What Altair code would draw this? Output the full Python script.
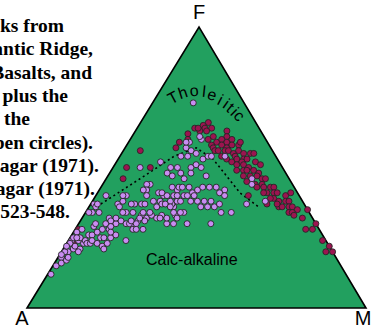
import altair as alt
import pandas as pd

# AFM compositions as (F, M) in percent of A+F+M; A = 100 - F - M.
# Calc-alkaline suite (Cascades), drawn as light violet circles
calc_alkaline = [
    (12, 1), (15, 1), (18, 1), (16, 2), (17, 3), (20, 2), (20, 1), (21, 3), (22, 3), (24, 1),
    (23, 1), (24, 3), (23, 5), (21, 5), (24, 5), (26, 5), (26, 6), (23, 9), (25, 9), (29, 5),
    (30, 5), (34, 2), (34, 4), (37, 1), (27, 1), (28, 2), (25, 1), (22, 0.5), (19, 0.5), (18, 3),
    (20, 5), (23, 6), (23, 7), (22, 11), (25, 12), (30, 11), (30, 8), (28, 10), (28, 8), (32, 8),
    (26, 13), (23, 12), (24, 17), (30, 14), (30, 16), (28, 17), (28, 20), (31, 17), (32, 19), (33, 20),
    (32, 22), (30, 26), (30, 28), (33, 23), (32, 25), (33, 27), (34, 29), (36, 25), (37, 24), (38, 20),
    (37, 13), (37, 15), (37, 16), (37, 8), (36, 2),
    (50, 8), (52, 13), (50, 17), (48, 17), (47, 19), (44, 14), (44, 13), (42, 14), (40, 15), (41, 18),
    (40, 20), (40, 21), (40, 23), (42, 23), (38, 25), (38, 23), (38, 18), (36, 20), (37, 21), (37, 22),
    (34, 19), (33, 17), (31, 19), (32, 17), (30, 17), (28, 18), (30, 15), (31, 15), (31, 12), (34, 12),
    (37, 12), (38, 9), (36, 9), (40, 9), (40, 8), (40, 3), (37, 2), (31, 9), (32, 10), (29, 10),
    (27, 11), (25, 10), (27, 7), (24, 7), (25, 3), (25, 2), (21, 12),
    (73, 12), (60, 21), (59, 18), (57, 18), (56, 20), (54, 18), (55, 22), (53, 25), (54, 26), (54, 27),
    (54, 31), (59, 17), (61, 20), (54, 20), (50, 19), (48, 21), (50, 23), (51, 24), (50, 26), (46, 23),
    (48, 24), (47, 29), (43, 21), (43, 23), (43, 24), (43, 26), (41, 28), (42, 29), (43, 30), (43, 32),
    (43, 34), (42, 37), (41, 36), (40, 24), (40, 26), (40, 27), (40, 29), (41, 19), (38, 26), (38, 29),
    (38, 31), (38, 33), (38, 35), (40, 38), (36, 33), (36, 35), (36, 37), (37, 38), (36, 24), (34, 26),
    (34, 28), (32, 28), (34, 43), (37, 46), (38, 51), (46, 43), (44, 44), (30, 32), (30, 39), (34, 40),
    (42, 13), (34, 11), (34, 14), (34, 17), (32, 23), (34, 1),
]

# Tholeiitic suites (Mid-Atlantic Ridge, Hawaii, ...), drawn as maroon circles
tholeiitic = [
    (66, 20), (64, 17), (65, 19), (64, 20), (64, 22), (63, 19), (63, 21), (64, 18), (62, 16), (63, 27),
    (60, 17), (61, 28), (59, 15), (57, 15), (56, 5), (50, 11), (50, 4), (46, 5), (18, 1), (28, 1),
    (23, 2),
    (60, 23), (61, 24), (59, 26), (60, 27), (59, 29), (60, 30), (58, 25), (57, 26), (58, 28), (57, 30),
    (58, 31), (58, 33), (59, 33), (56, 27), (56, 28), (56, 30), (56, 31), (55, 33), (56, 34), (55, 36),
    (55, 38), (54, 30), (53, 32), (54, 34), (53, 35), (53, 37), (53, 38), (55, 39), (52, 34), (51, 36),
    (52, 37), (51, 38), (50, 40), (52, 41), (49, 37), (49, 39), (49, 40), (49, 42), (48, 44), (51, 43),
    (47, 40), (47, 42), (47, 44), (46, 46), (46, 47), (45, 42), (44, 45), (44, 47), (43, 46), (43, 48),
    (43, 50), (43, 51), (41, 50), (41, 52), (41, 53), (40, 56), (41, 57), (41, 49), (39, 53), (38, 55),
    (38, 57), (38, 58), (39, 52), (36, 56), (36, 57), (36, 59), (36, 60), (35, 62), (34, 60), (34, 61),
    (33, 62), (35, 65), (32, 65), (37, 55), (30, 70), (28, 68), (28, 70), (24, 75), (22, 78), (20, 78),
    (20, 80), (40, 45), (37, 52),
]

# Irvine & Baragar (1971) tholeiitic / calc-alkaline divide
boundary = [(37, 3), (46, 10), (54, 16), (57, 21), (53, 28), (47, 35), (41, 42), (36, 50)]

# Corners of the diagram: A, F, M
corners = [(0, 0), (100, 0), (0, 100)]

# "Tholeiitic" set letter by letter along the arc above the trend
thol_letters = list("Tholeiitic")
thol_pos = [(74.7, 5.2), (76.5, 7.2), (77.2, 10.1), (76.9, 13.2), (75.8, 16.1),
            (74.0, 19.4), (72.6, 21.9), (71.2, 23.8), (69.8, 25.7), (68.3, 27.9)]
thol_angle = [332, 342, 354, 6, 18, 28, 35, 40, 45, 50]

calc_label_pos = (17, 40)

caption_lines = ["ks from", "antic Ridge,", "Basalts, and", "plus the", "f the",
                 "pen circles).", "agar (1971).", "agar (1971).", "523-548."]
caption_right = [64, 93, 92, 68, 30, 93, 99, 95, 70]

APEX = 0.5074  # horizontal position of the F apex along the base


def to_frame(pairs):
    return pd.DataFrame({
        "i": range(len(pairs)),
        "x": [(m + APEX * f) / 100 for f, m in pairs],
        "y": [f / 100 for f, m in pairs],
    })


xs = alt.Scale(domain=[-0.0797, 1.0177], nice=False, zero=False)
ys = alt.Scale(domain=[-0.0783, 1.0961], nice=False, zero=False)
X = alt.X("x:Q", scale=xs, axis=None)
Y = alt.Y("y:Q", scale=ys, axis=None)

tri_df = to_frame(corners).sort_values("x")
triangle = alt.Chart(tri_df).mark_area(
    color="#22A05F", stroke="black", strokeWidth=1.6, interpolate="linear", opacity=1
).encode(x=X, y=Y, y2=alt.datum(0))

divide = alt.Chart(to_frame(boundary)).mark_line(
    color="black", strokeWidth=1.6, strokeDash=[2, 3]
).encode(x=X, y=Y, order="i:Q")

pt_style = dict(size=36, stroke="#262626", strokeWidth=0.9, opacity=1)
thol_pts = alt.Chart(to_frame(tholeiitic)).mark_circle(color="#9C1450", **pt_style).encode(x=X, y=Y)
calc_pts = alt.Chart(to_frame(calc_alkaline)).mark_circle(color="#C98CF2", **pt_style).encode(x=X, y=Y)

calc_df = to_frame([calc_label_pos]).assign(t="Calc-alkaline")
calc_text = alt.Chart(calc_df).mark_text(
    font="Liberation Sans", fontSize=16, color="black", baseline="middle"
).encode(x=X, y=Y, text="t:N")

thol_df = to_frame(thol_pos).assign(t=thol_letters, a=thol_angle)
thol_text = alt.Chart(thol_df).mark_text(
    font="Liberation Sans", fontSize=16, color="black", baseline="middle"
).encode(x=X, y=Y, text="t:N", angle=alt.Angle("a:Q", scale=None))

layers = [triangle, divide, thol_pts, calc_pts, calc_text, thol_text]

# Corner labels, just outside the vertices
for lab, px, py in [("F", 199, 13), ("A", 22, 319), ("M", 363, 319)]:
    layers.append(
        alt.Chart(calc_df).mark_text(
            text=lab, font="Liberation Sans", fontSize=20, color="black", baseline="middle"
        ).encode(x=alt.value(px), y=alt.value(py))
    )

# Caption block running off the left edge
for k, (line, right) in enumerate(zip(caption_lines, caption_right)):
    layers.append(
        alt.Chart(calc_df).mark_text(
            text=line, font="Liberation Serif", fontSize=19.5, fontWeight="bold",
            color="black", align="right", baseline="alphabetic"
        ).encode(x=alt.value(right), y=alt.value(32 + 23.3 * k))
    )

chart = alt.layer(*layers).properties(
    width=372, height=330, padding=0,
    autosize=alt.AutoSizeParams(type="none"),
    background="white",
).configure_view(stroke=None)

chart.save("out.html", embed_options={"renderer": "svg", "actions": False})
